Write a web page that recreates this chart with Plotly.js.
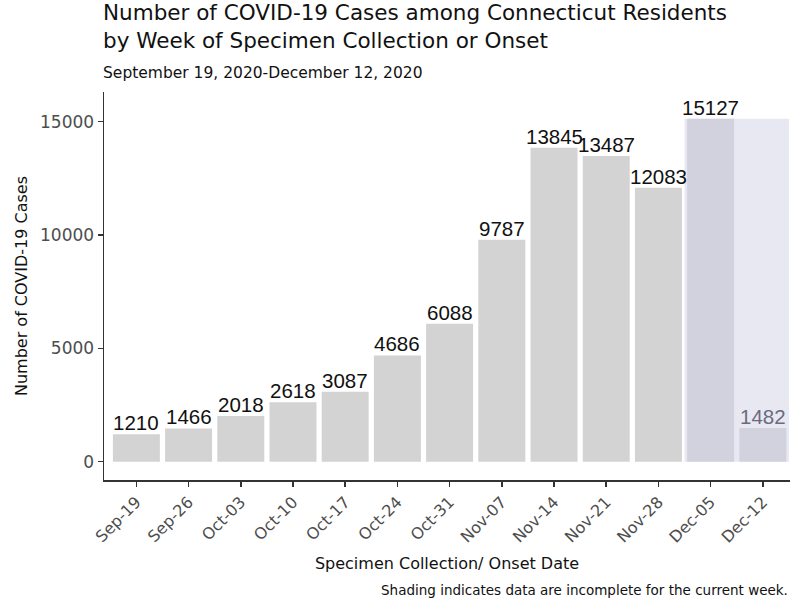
<!DOCTYPE html>
<html>
<head>
<meta charset="utf-8">
<script src="https://cdn.plot.ly/plotly-3.0.1.min.js"></script>
<style>html,body{margin:0;padding:0;background:#fff;}#chart{width:792px;height:603px;}</style>
</head>
<body>
<div id="chart"></div>
<script>
const weeks = ["Sep-19","Sep-26","Oct-03","Oct-10","Oct-17","Oct-24","Oct-31","Nov-07","Nov-14","Nov-21","Nov-28","Dec-05","Dec-12"];
const cases = [1210,1466,2018,2618,3087,4686,6088,9787,13845,13487,12083,15127,1482];
const incompleteWeeks = ["Dec-05","Dec-12"];
const yTicks = [0,5000,10000,15000];

const FONT = "DejaVu Sans, Arial, sans-serif";
const LFONT = "Liberation Sans, Arial, sans-serif";
const isInc = weeks.map(w => incompleteWeeks.includes(w));
const maxVal = Math.max(...cases);
const firstInc = weeks.indexOf(incompleteWeeks[0]);
const lastInc = weeks.indexOf(incompleteWeeks[incompleteWeeks.length-1]);

const trace = {
  type: 'bar',
  x: weeks,
  y: cases,
  width: 0.9,
  marker: {color: isInc.map(f => f ? '#d2d2de' : '#d3d3d3'), line: {width: 0}},
  hoverinfo: 'x+y'
};

const labelAnns = weeks.map((w, i) => ({
  xref: 'x', yref: 'y', x: w, y: cases[i],
  xanchor: 'center', yanchor: 'bottom', yshift: -2,
  showarrow: false, text: String(cases[i]),
  font: {family: LFONT, size: 20.5, color: (isInc[i] && cases[i] < maxVal) ? '#6b6b80' : '#111111'}
}));

const layout = {
  width: 792, height: 603,
  margin: {l: 104, r: 2, t: 92, b: 123},
  paper_bgcolor: '#ffffff', plot_bgcolor: '#ffffff',
  showlegend: false,
  font: {family: FONT, color: '#111'},
  xaxis: {
    type: 'category',
    range: [-0.62, 12.52],
    showline: true, linecolor: '#333333', linewidth: 1.5,
    ticks: 'outside', ticklen: 5, tickcolor: '#333333', tickwidth: 1.5,
    tickangle: -45,
    tickfont: {family: FONT, size: 16, color: '#4d4d4d'},
    showgrid: false, zeroline: false,
    title: {text: 'Specimen Collection/ Onset Date', font: {family: FONT, size: 16, color: '#111'}, standoff: 12}
  },
  yaxis: {
    range: [-810, 16310],
    tickvals: yTicks,
    tickformat: 'd',
    showline: true, linecolor: '#333333', linewidth: 1.5,
    ticks: 'outside', ticklen: 5, tickcolor: '#333333', tickwidth: 1.5,
    tickfont: {family: FONT, size: 17, color: '#4d4d4d'},
    showgrid: false, zeroline: false,
    title: {text: 'Number of COVID-19 Cases', font: {family: FONT, size: 16, color: '#111'}, standoff: 8}
  },
  shapes: [{
    type: 'rect', layer: 'below', xref: 'x', yref: 'y',
    x0: firstInc - 0.5, x1: lastInc + 0.5, y0: 0, y1: maxVal,
    fillcolor: '#e8e8f2', line: {width: 0}
  }],
  annotations: labelAnns.concat([
    {xref: 'paper', yref: 'paper', x: 0, y: 1, xanchor: 'left', yanchor: 'bottom', yshift: 37, xshift: -3, align: 'left', showarrow: false,
     text: 'Number of COVID-19 Cases among Connecticut Residents<br>by Week of Specimen Collection or Onset',
     font: {family: FONT, size: 21.5, color: '#111'}},
    {xref: 'paper', yref: 'paper', x: 0, y: 1, xanchor: 'left', yanchor: 'bottom', yshift: 8, xshift: -3, align: 'left', showarrow: false,
     text: 'September 19, 2020-December 12, 2020',
     font: {family: FONT, size: 15.5, color: '#111'}},
    {xref: 'paper', yref: 'paper', x: 1, y: 0, xanchor: 'right', yanchor: 'top', yshift: -100, align: 'right', showarrow: false,
     text: 'Shading indicates data are incomplete for the current week.',
     font: {family: FONT, size: 13.5, color: '#111'}}
  ])
};

Plotly.newPlot('chart', [trace], layout, {displayModeBar: false, staticPlot: true});
</script>
</body>
</html>
